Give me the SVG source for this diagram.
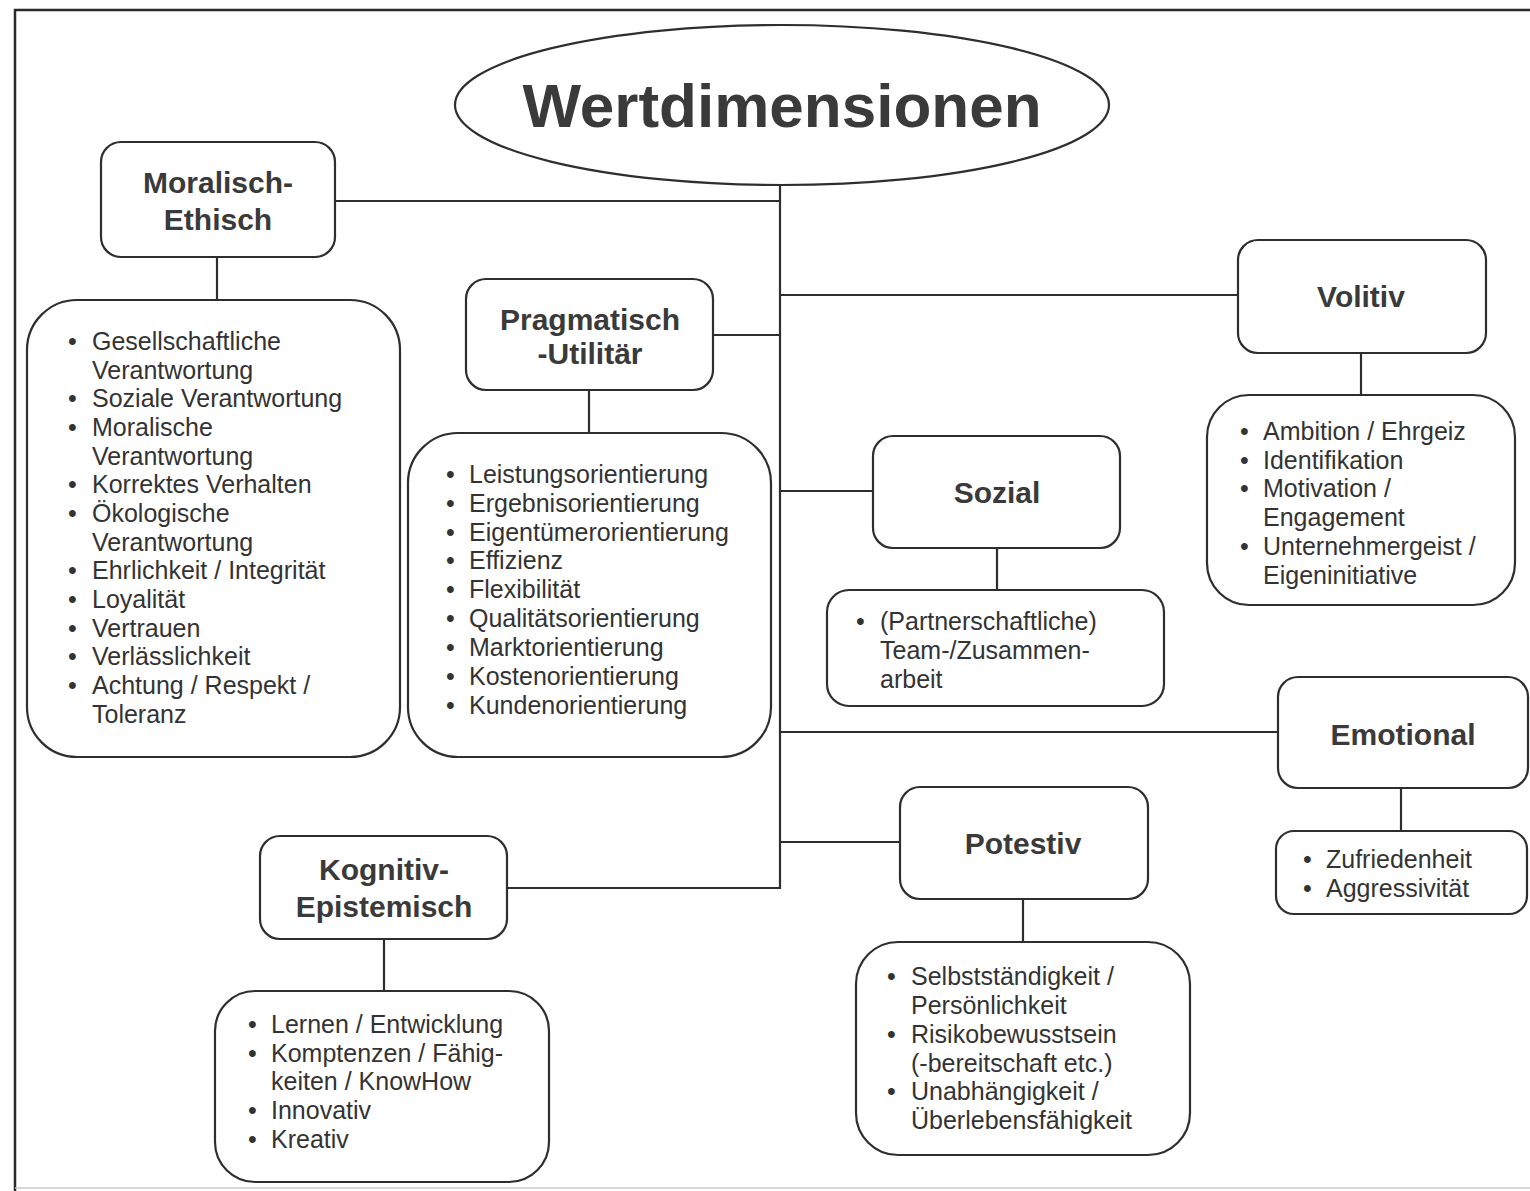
<svg xmlns="http://www.w3.org/2000/svg" width="1530" height="1191" viewBox="0 0 1530 1191">
<style>
.bg{fill:#ffffff}
.frame{fill:none;stroke:#2a2a2a;stroke-width:2.5}
.faint{fill:none;stroke:#c8c8c8;stroke-width:1.5}
.box{fill:#ffffff;stroke:#2e2e2e;stroke-width:2.2}
.conn{fill:none;stroke:#2e2e2e;stroke-width:2.2}
.head{font-family:"Liberation Sans",Arial,sans-serif;font-weight:bold;font-size:30px;fill:#3a3a3a;text-anchor:middle}
.title{font-family:"Liberation Sans",Arial,sans-serif;font-weight:bold;font-size:62px;fill:#3a3a3a;text-anchor:middle}
.item{font-family:"Liberation Sans",Arial,sans-serif;font-size:25px;fill:#333333}
</style>
<rect class="bg" x="0" y="0" width="1530" height="1191"/>
<path class="frame" d="M1530,10 H15 V1191"/>
<path class="faint" d="M15,1188 H1530"/>

<g id="connectors">
<path class="conn" d="M780,185 V888 H507"/>
<path class="conn" d="M335,201 H780"/>
<path class="conn" d="M780,295 H1238"/>
<path class="conn" d="M713,335 H780"/>
<path class="conn" d="M780,491 H873"/>
<path class="conn" d="M780,732 H1278"/>
<path class="conn" d="M780,842 H900"/>
<path class="conn" d="M217,257 V300"/>
<path class="conn" d="M589,390 V433"/>
<path class="conn" d="M997,548 V590"/>
<path class="conn" d="M1361,353 V395"/>
<path class="conn" d="M1401,788 V831"/>
<path class="conn" d="M1023,899 V942"/>
<path class="conn" d="M384,939 V991"/>
</g>

<g id="wertdimensionen">
<ellipse class="box" cx="782" cy="105" rx="327" ry="80"/>
<text class="title" x="782" y="127">Wertdimensionen</text>
</g>

<g id="moralisch">
<rect class="box" x="101" y="142" width="234" height="115" rx="20"/>
<text class="head" x="218" y="193">Moralisch-</text>
<text class="head" x="218" y="230">Ethisch</text>
</g>
<g id="moralisch-list">
<rect class="box" x="27" y="300" width="373" height="457" rx="50"/>
<text class="item" x="68" y="350">•</text><text class="item" x="92" y="350">Gesellschaftliche</text>
<text class="item" x="92" y="379">Verantwortung</text>
<text class="item" x="68" y="407">•</text><text class="item" x="92" y="407">Soziale Verantwortung</text>
<text class="item" x="68" y="436">•</text><text class="item" x="92" y="436">Moralische</text>
<text class="item" x="92" y="465">Verantwortung</text>
<text class="item" x="68" y="493">•</text><text class="item" x="92" y="493">Korrektes Verhalten</text>
<text class="item" x="68" y="522">•</text><text class="item" x="92" y="522">Ökologische</text>
<text class="item" x="92" y="551">Verantwortung</text>
<text class="item" x="68" y="579">•</text><text class="item" x="92" y="579">Ehrlichkeit / Integrität</text>
<text class="item" x="68" y="608">•</text><text class="item" x="92" y="608">Loyalität</text>
<text class="item" x="68" y="637">•</text><text class="item" x="92" y="637">Vertrauen</text>
<text class="item" x="68" y="665">•</text><text class="item" x="92" y="665">Verlässlichkeit</text>
<text class="item" x="68" y="694">•</text><text class="item" x="92" y="694">Achtung / Respekt /</text>
<text class="item" x="92" y="723">Toleranz</text>
</g>

<g id="pragmatisch">
<rect class="box" x="466" y="279" width="247" height="111" rx="20"/>
<text class="head" x="590" y="330">Pragmatisch</text>
<text class="head" x="590" y="364">-Utilitär</text>
</g>
<g id="pragmatisch-list">
<rect class="box" x="408" y="433" width="363" height="324" rx="50"/>
<text class="item" x="446" y="483">•</text><text class="item" x="469" y="483">Leistungsorientierung</text>
<text class="item" x="446" y="512">•</text><text class="item" x="469" y="512">Ergebnisorientierung</text>
<text class="item" x="446" y="541">•</text><text class="item" x="469" y="541">Eigentümerorientierung</text>
<text class="item" x="446" y="569">•</text><text class="item" x="469" y="569">Effizienz</text>
<text class="item" x="446" y="598">•</text><text class="item" x="469" y="598">Flexibilität</text>
<text class="item" x="446" y="627">•</text><text class="item" x="469" y="627">Qualitätsorientierung</text>
<text class="item" x="446" y="656">•</text><text class="item" x="469" y="656">Marktorientierung</text>
<text class="item" x="446" y="685">•</text><text class="item" x="469" y="685">Kostenorientierung</text>
<text class="item" x="446" y="714">•</text><text class="item" x="469" y="714">Kundenorientierung</text>
</g>

<g id="sozial">
<rect class="box" x="873" y="436" width="247" height="112" rx="20"/>
<text class="head" x="997" y="503">Sozial</text>
</g>
<g id="sozial-list">
<rect class="box" x="827" y="590" width="337" height="116" rx="22"/>
<text class="item" x="856" y="630">•</text><text class="item" x="880" y="630">(Partnerschaftliche)</text>
<text class="item" x="880" y="659">Team-/Zusammen-</text>
<text class="item" x="880" y="688">arbeit</text>
</g>

<g id="volitiv">
<rect class="box" x="1238" y="240" width="248" height="113" rx="20"/>
<text class="head" x="1361" y="307">Volitiv</text>
</g>
<g id="volitiv-list">
<rect class="box" x="1207" y="395" width="308" height="210" rx="42"/>
<text class="item" x="1240" y="440">•</text><text class="item" x="1263" y="440">Ambition / Ehrgeiz</text>
<text class="item" x="1240" y="469">•</text><text class="item" x="1263" y="469">Identifikation</text>
<text class="item" x="1240" y="497">•</text><text class="item" x="1263" y="497">Motivation /</text>
<text class="item" x="1263" y="526">Engagement</text>
<text class="item" x="1240" y="555">•</text><text class="item" x="1263" y="555">Unternehmergeist /</text>
<text class="item" x="1263" y="584">Eigeninitiative</text>
</g>

<g id="emotional">
<rect class="box" x="1278" y="677" width="250" height="111" rx="20"/>
<text class="head" x="1403" y="745">Emotional</text>
</g>
<g id="emotional-list">
<rect class="box" x="1276" y="831" width="251" height="83" rx="18"/>
<text class="item" x="1303" y="868">•</text><text class="item" x="1326" y="868">Zufriedenheit</text>
<text class="item" x="1303" y="897">•</text><text class="item" x="1326" y="897">Aggressivität</text>
</g>

<g id="potestiv">
<rect class="box" x="900" y="787" width="248" height="112" rx="20"/>
<text class="head" x="1023" y="854">Potestiv</text>
</g>
<g id="potestiv-list">
<rect class="box" x="856" y="942" width="334" height="213" rx="42"/>
<text class="item" x="887" y="985">•</text><text class="item" x="911" y="985">Selbstständigkeit /</text>
<text class="item" x="911" y="1014">Persönlichkeit</text>
<text class="item" x="887" y="1043">•</text><text class="item" x="911" y="1043">Risikobewusstsein</text>
<text class="item" x="911" y="1072">(-bereitschaft etc.)</text>
<text class="item" x="887" y="1100">•</text><text class="item" x="911" y="1100">Unabhängigkeit /</text>
<text class="item" x="911" y="1129">Überlebensfähigkeit</text>
</g>

<g id="kognitiv">
<rect class="box" x="260" y="836" width="247" height="103" rx="20"/>
<text class="head" x="384" y="880">Kognitiv-</text>
<text class="head" x="384" y="917">Epistemisch</text>
</g>
<g id="kognitiv-list">
<rect class="box" x="215" y="991" width="334" height="191" rx="40"/>
<text class="item" x="248" y="1033">•</text><text class="item" x="271" y="1033">Lernen / Entwicklung</text>
<text class="item" x="248" y="1062">•</text><text class="item" x="271" y="1062">Komptenzen / Fähig-</text>
<text class="item" x="271" y="1090">keiten / KnowHow</text>
<text class="item" x="248" y="1119">•</text><text class="item" x="271" y="1119">Innovativ</text>
<text class="item" x="248" y="1148">•</text><text class="item" x="271" y="1148">Kreativ</text>
</g>
</svg>
